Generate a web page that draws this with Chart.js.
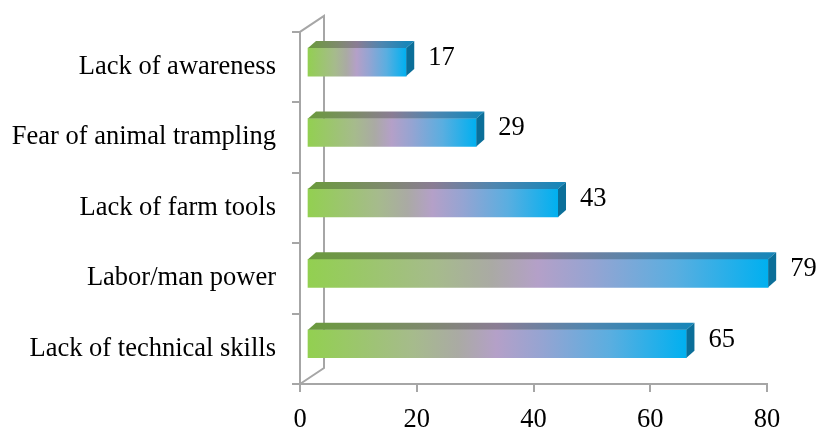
<!DOCTYPE html>
<html>
<head>
<meta charset="utf-8">
<script src="https://cdn.jsdelivr.net/npm/chart.js@4.4.1/dist/chart.umd.min.js"></script>
<style>
  html, body { margin: 0; padding: 0; background: #fff; }
</style>
</head>
<body>
<canvas id="chart" width="817" height="430"></canvas>
<script>
const categories = ["Lack of awareness", "Fear of animal trampling", "Lack of farm tools", "Labor/man power", "Lack of technical skills"];
const values = [17, 29, 43, 79, 65];
const xTicks = [0, 20, 40, 60, 80];

// fake 3d: bar depth, bar offset inside the box, box depth
const DEPTH_X = 8, DEPTH_Y = 7;
const SHIFT_X = 7, SHIFT_Y = -5;
const WALL_X = 24, WALL_Y = 16;
const LINE = "#a6a6a6";
const FONT = "'Liberation Serif', 'Times New Roman', serif";
const FONT_SIZE = 26.5;

function gradient(ctx, x0, x1, stops) {
  const g = ctx.createLinearGradient(x0, 0, x1, 0);
  stops.forEach(s => g.addColorStop(s[0], s[1]));
  return g;
}

const frontStops = [[0, "#92d050"], [0.28, "#a6bb8c"], [0.4, "#aaaaa4"], [0.5, "#b4a0c8"], [0.62, "#95a4d2"], [0.8, "#5aaee0"], [1, "#00b0f0"]];
const topStops = [[0, "#6a9a3c"], [0.3, "#7e8a6c"], [0.5, "#8a7c94"], [0.75, "#4d86b0"], [1, "#1a86b8"]];

const box3d = {
  id: "box3d",
  beforeDatasetsDraw(chart) {
    const ctx = chart.ctx;
    const a = chart.chartArea;
    ctx.save();
    ctx.strokeStyle = LINE;
    ctx.lineWidth = 2;
    ctx.beginPath();
    ctx.moveTo(a.left, a.top);
    ctx.lineTo(a.left + WALL_X, a.top - WALL_Y);
    ctx.lineTo(a.left + WALL_X, a.bottom - WALL_Y);
    ctx.lineTo(a.left, a.bottom);
    ctx.stroke();
    ctx.restore();
    // bars sit a little behind the front plane
    ctx.save();
    ctx.translate(SHIFT_X, SHIFT_Y);
  },
  afterDatasetsDraw(chart) {
    const ctx = chart.ctx;
    const meta = chart.getDatasetMeta(0);
    meta.data.forEach(el => {
      const p = el.getProps(["x", "y", "base", "height"], true);
      const top = p.y - p.height / 2, bot = p.y + p.height / 2;
      ctx.fillStyle = gradient(ctx, p.base, p.x, topStops);
      ctx.beginPath();
      ctx.moveTo(p.base, top);
      ctx.lineTo(p.base + DEPTH_X, top - DEPTH_Y);
      ctx.lineTo(p.x + DEPTH_X, top - DEPTH_Y);
      ctx.lineTo(p.x, top);
      ctx.closePath();
      ctx.fill();
      ctx.fillStyle = "#0b6f99";
      ctx.beginPath();
      ctx.moveTo(p.x, top);
      ctx.lineTo(p.x + DEPTH_X, top - DEPTH_Y);
      ctx.lineTo(p.x + DEPTH_X, bot - DEPTH_Y);
      ctx.lineTo(p.x, bot);
      ctx.closePath();
      ctx.fill();
    });
    ctx.restore();

    // value labels
    ctx.save();
    ctx.font = FONT_SIZE + "px " + FONT;
    ctx.fillStyle = "#000";
    ctx.textAlign = "left";
    ctx.textBaseline = "middle";
    meta.data.forEach((el, i) => {
      ctx.fillText(String(values[i]), el.x + SHIFT_X + 22, el.y + SHIFT_Y - 4);
    });
    ctx.restore();
  }
};

new Chart(document.getElementById("chart"), {
  type: "bar",
  data: {
    labels: categories,
    datasets: [{
      data: values,
      barThickness: 28,
      borderWidth: 0,
      backgroundColor(c) {
        const chart = c.chart;
        if (!chart.chartArea) return "#92d050";
        const xs = chart.scales.x;
        return gradient(chart.ctx, xs.getPixelForValue(0), xs.getPixelForValue(c.raw), frontStops);
      }
    }]
  },
  options: {
    indexAxis: "y",
    responsive: false,
    animation: false,
    devicePixelRatio: 1,
    layout: { padding: { top: 30, right: 50, left: 0, bottom: 0 } },
    plugins: { legend: { display: false }, tooltip: { enabled: false } },
    scales: {
      x: {
        min: xTicks[0],
        max: xTicks[xTicks.length - 1],
        afterBuildTicks(scale) { scale.ticks = xTicks.map(v => ({ value: v })); },
        afterFit(scale) { scale.height = 46; },
        grid: { drawOnChartArea: false, drawTicks: true, tickLength: 8, color: LINE, lineWidth: 2 },
        border: { display: true, color: LINE, width: 2 },
        ticks: { color: "#000", padding: 12, font: { family: FONT, size: FONT_SIZE } }
      },
      y: {
        afterFit(scale) { scale.width = 300; },
        grid: { offset: true, drawOnChartArea: false, drawTicks: true, tickLength: 8, color: LINE, lineWidth: 2 },
        border: { display: true, color: LINE, width: 2 },
        ticks: { color: "#000", padding: 16, autoSkip: false, font: { family: FONT, size: FONT_SIZE } }
      }
    }
  },
  plugins: [box3d]
});
</script>
</body>
</html>
